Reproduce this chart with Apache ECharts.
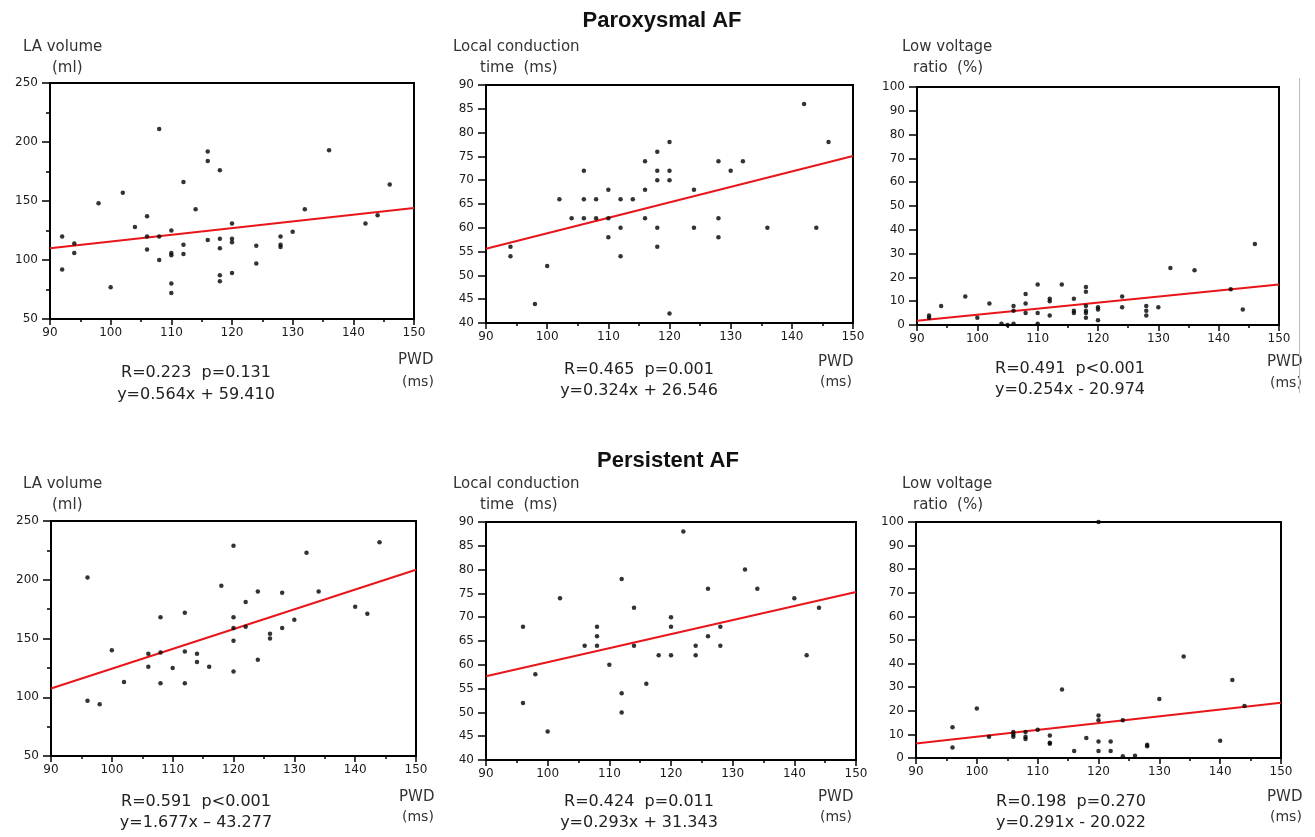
<!DOCTYPE html>
<html>
<head>
<meta charset="utf-8">
<title>PWD correlations</title>
<script src="https://cdn.jsdelivr.net/npm/echarts@6.0.0/dist/echarts.min.js"></script>
<style>
html, body { margin: 0; padding: 0; background: #fff; }
#chart { width: 1315px; height: 837px; }
</style>
</head>
<body>
<div id="chart"></div>
<script>
// PWD (ms) on x, one array of [pwd, value] per panel
const paroxLa = [[92,120],[92,92],[94,114],[94,106],[98,148],[100,77],[102,157],[104,128],[106,137],[106,120],[106,109],[108,211],[108,120],[108,100],[110,125],[110,106],[110,104],[110,80],[110,72],[112,166],[112,113],[112,105],[114,143],[116,192],[116,184],[116,117],[118,176],[118,118],[118,110],[118,87],[118,82],[120,131],[120,118],[120,115],[120,89],[124,112],[124,97],[128,120],[128,113],[128,111],[130,124],[132,143],[136,193],[142,131],[144,138],[146,164]]
const paroxLct = [[94,56],[94,54],[98,44],[100,52],[102,66],[104,62],[106,72],[106,66],[106,62],[108,66],[108,62],[110,68],[110,62],[110,58],[112,66],[112,60],[112,54],[114,66],[116,74],[116,68],[116,62],[118,76],[118,72],[118,70],[118,60],[118,56],[120,78],[120,72],[120,70],[120,42],[124,68],[124,60],[128,74],[128,62],[128,58],[130,72],[132,74],[136,60],[142,86],[144,60],[146,78]]
const paroxLvr = [[92,3],[92,4],[94,8],[98,12],[100,3],[102,9],[104,0.5],[105,0],[106,0.5],[106,8],[106,6],[108,13],[108,9],[108,5],[110,17],[110,5],[110,0.5],[112,11],[112,10],[112,4],[114,17],[116,11],[116,6],[116,5],[118,16],[118,14],[118,8],[118,6],[118,5],[118,3],[120,7.5],[120,6.5],[120,2],[124,12],[124,7.5],[128,8],[128,6],[128,4],[130,7.5],[132,24],[136,23],[142,15],[144,6.5],[146,34]]
const persLa = [[96,202],[96,97],[98,94],[100,140],[102,113],[106,137],[106,126],[108,168],[108,138],[108,112],[110,125],[112,172],[112,139],[112,112],[114,137],[114,130],[116,126],[118,195],[120,229],[120,168],[120,159],[120,148],[120,122],[122,181],[122,160],[124,190],[124,132],[126,154],[126,150],[128,189],[128,159],[130,166],[132,223],[134,190],[140,177],[142,171],[144,232]]
const persLct = [[96,68],[96,52],[98,58],[100,46],[102,74],[106,64],[108,68],[108,66],[108,64],[110,60],[112,78],[112,54],[112,50],[114,72],[114,64],[116,56],[118,62],[120,70],[120,68],[120,62],[122,88],[124,64],[124,62],[126,76],[126,66],[128,68],[128,64],[132,80],[134,76],[140,74],[142,62],[144,72]]
const persLvr = [[96,13],[96,4.5],[100,21],[102,9],[106,11],[106,10],[106,9],[108,11],[108,9],[108,8],[110,12],[112,9.5],[112,6.5],[112,6],[114,29],[116,3],[118,8.5],[120,100],[120,18],[120,16],[120,7],[120,3],[122,7],[122,3],[124,16],[124,0.7],[126,1],[128,5.6],[128,5],[130,25],[134,43],[140,7.3],[142,33],[144,22]]

// regression line ends, read at PWD 90 and 150
const paroxLaFit = [[90,110],[150,144]]
const paroxLctFit = [[90,55.6],[150,75.1]]
const paroxLvrFit = [[90,1.8],[150,17]]
const persLaFit = [[90,107.5],[150,208.5]]
const persLctFit = [[90,57.6],[150,75.3]]
const persLvrFit = [[90,6.1],[150,23.4]]

const yRanges = [[50,250,50],[40,90,5],[0,100,10],[50,250,50],[40,90,5],[0,100,10]]
const yNames = [['LA volume','(ml)'],['Local conduction','time  (ms)'],['Low voltage','ratio  (%)']]
const stats = [
    ['R=0.223  p=0.131', 'y=0.564x + 59.410'],
    ['R=0.465  p=0.001', 'y=0.324x + 26.546'],
    ['R=0.491  p<0.001', 'y=0.254x - 20.974'],
    ['R=0.591  p<0.001', 'y=1.677x \u2013 43.277'],
    ['R=0.424  p=0.011', 'y=0.293x + 31.343'],
    ['R=0.198  p=0.270', 'y=0.291x - 20.022']
]
const groupTitles = ['Paroxysmal AF', 'Persistent AF']

const points = [paroxLa, paroxLct, paroxLvr, persLa, persLct, persLvr]
const fits = [paroxLaFit, paroxLctFit, paroxLvrFit, persLaFit, persLctFit, persLvrFit]

// layout (px)
const grids = [
    { left: 50, top: 83, width: 364, height: 236 },
    { left: 486, top: 85, width: 367, height: 238 },
    { left: 917, top: 87, width: 362, height: 238 },
    { left: 51, top: 521, width: 365, height: 235 },
    { left: 486, top: 522, width: 370, height: 238 },
    { left: 916, top: 522, width: 365, height: 236 }
]
const namePos = [[23,47,52,68],[453,47,480,68],[902,47,913,68],[23,484,52,505],[453,484,480,505],[902,484,913,505]]
const pwdPos = [[398,360,402,382],[818,362,820,382],[1267,362,1270,383],[399,797,402,817],[818,797,820,817],[1267,797,1270,817]]
const statPos = [[196,373,395],[639,370,391],[1070,369,390],[196,802,823],[639,802,823],[1071,802,823]]
const titlePos = [[662,21],[668,461]]

const tickFont = 'DejaVu Sans'
const axisColor = '#000'

let xAxis = [], yAxis = [], series = [], graphic = []

grids.forEach((g, i) => {
    let [ymin, ymax, yint] = yRanges[i]
    xAxis.push({
        gridIndex: i, type: 'value', min: 90, max: 150, interval: 10,
        axisLine: { show: true, onZero: false, lineStyle: { color: axisColor, width: 2 } },
        axisTick: { show: true, length: 6, lineStyle: { color: axisColor, width: 1.5 } },
        minorTick: { show: true, splitNumber: 2, length: 3, lineStyle: { color: axisColor, width: 1.5 } },
        splitLine: { show: false },
        axisLabel: { color: '#1a1a1a', fontSize: 12, fontFamily: tickFont, margin: 8 }
    })
    yAxis.push({
        gridIndex: i, type: 'value', min: ymin, max: ymax, interval: yint,
        axisLine: { show: true, onZero: false, lineStyle: { color: axisColor, width: 2 } },
        axisTick: { show: true, length: 8, lineStyle: { color: axisColor, width: 1.5 } },
        minorTick: { show: yint == 50, splitNumber: 2, length: 4, lineStyle: { color: axisColor, width: 1.5 } },
        splitLine: { show: false },
        axisLabel: { color: '#1a1a1a', fontSize: 12, fontFamily: tickFont, margin: 12 }
    })
    series.push({
        type: 'line', xAxisIndex: i, yAxisIndex: i, data: fits[i],
        showSymbol: false, silent: true, z: 2,
        lineStyle: { color: '#e8161b', width: 2 }
    })
    series.push({
        type: 'scatter', xAxisIndex: i, yAxisIndex: i, data: points[i],
        symbol: 'circle', symbolSize: 4.5, silent: true, z: 3,
        itemStyle: { color: '#000' }
    })

    let n = yNames[i % 3], p = namePos[i]
    graphic.push(txt(n[0], p[0], p[1], 'left', '15px ' + tickFont, '#333'))
    graphic.push(txt(n[1], p[2], p[3], 'left', '15px ' + tickFont, '#333'))
    let w = pwdPos[i]
    graphic.push(txt('PWD', w[0], w[1], 'left', '15px ' + tickFont, '#333'))
    graphic.push(txt('(ms)', w[2], w[3], 'left', '14px ' + tickFont, '#333'))
    let s = statPos[i]
    graphic.push(txt(stats[i][0], s[0], s[1], 'center', '16px ' + tickFont, '#222'))
    graphic.push(txt(stats[i][1], s[0], s[2], 'center', '16px ' + tickFont, '#222'))
})

groupTitles.forEach((t, i) => {
    graphic.push(txt(t, titlePos[i][0], titlePos[i][1], 'center', 'bold 22px "Liberation Sans", Arial, sans-serif', '#111'))
})

// thin grey rule on the far right of the top row
graphic.push({
    type: 'line', silent: true,
    shape: { x1: 1299.5, y1: 78, x2: 1299.5, y2: 393 },
    style: { stroke: '#bbb', lineWidth: 1 }
})

function txt(text, x, y, align, font, color) {
    return {
        type: 'text', silent: true,
        style: {
            text: text, x: x, y: y, font: font, fill: color,
            align: align, verticalAlign: 'middle',
            textAlign: align, textVerticalAlign: 'middle'
        }
    }
}

let chart = echarts.init(document.getElementById('chart'))
chart.setOption({
    animation: false,
    backgroundColor: '#fff',
    grid: grids.map(g => ({ ...g, show: true, borderColor: axisColor, borderWidth: 2, backgroundColor: 'transparent' })),
    xAxis: xAxis,
    yAxis: yAxis,
    series: series,
    graphic: graphic
})
</script>
</body>
</html>
